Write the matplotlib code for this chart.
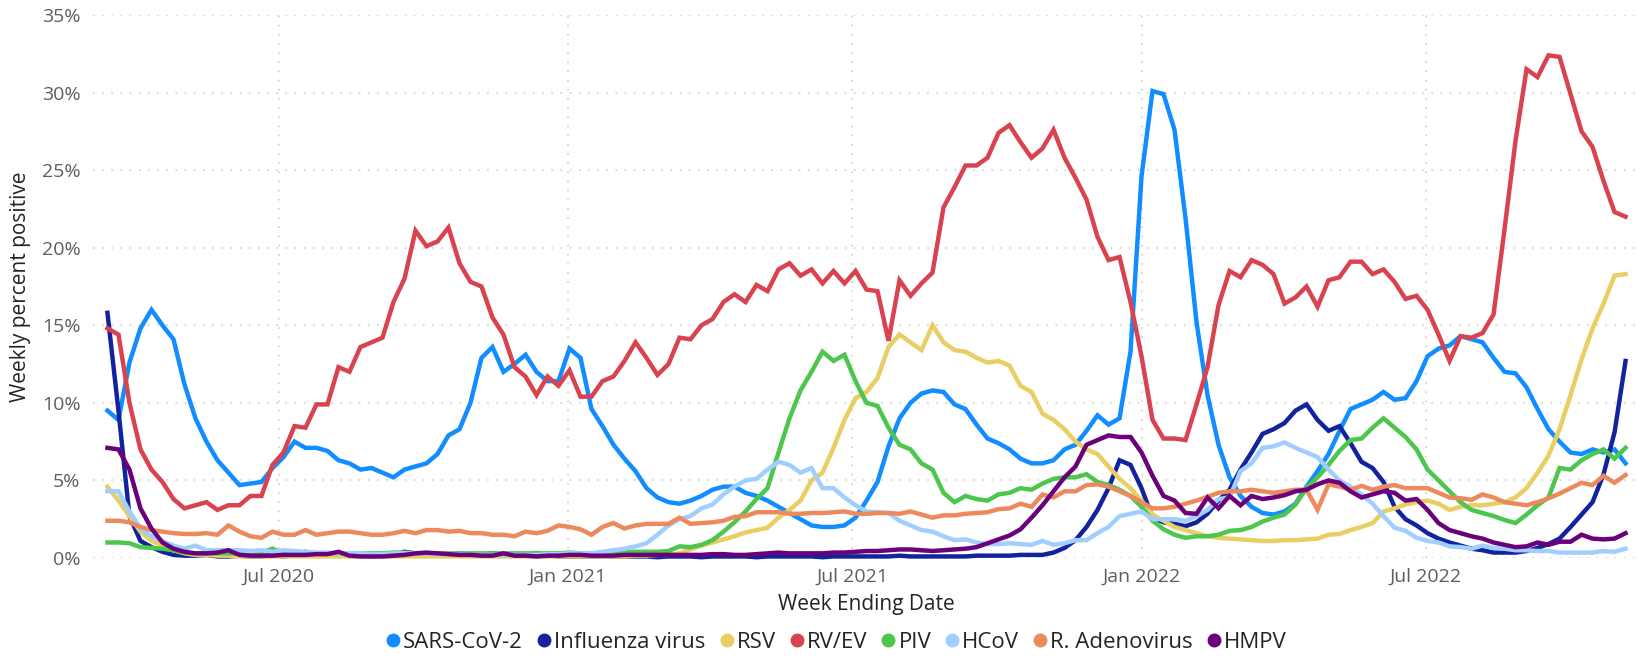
import pandas as pd
import numpy as np
from matplotlib import pyplot as plt
import matplotlib.ticker as ticker
from matplotlib.lines import Line2D

plt.rcParams['font.family'] = ['Open Sans', 'DejaVu Sans']

# weekly series, week ending Saturday, 2020-03-14 .. 2022-11-05 (139 weeks)
first_week = '2020-03-14'
n_weeks = 139

sars = [9.5, 8.9, 12.6, 14.8, 16.0, 15.0, 14.1, 11.2, 9.0, 7.5,
        6.3, 5.5, 4.7, 4.8, 4.9, 5.8, 6.5, 7.5, 7.1, 7.1,
        6.9, 6.3, 6.1, 5.7, 5.8, 5.5, 5.2, 5.7, 5.9, 6.1,
        6.7, 7.9, 8.3, 10.0, 12.9, 13.6, 12.0, 12.5, 13.1, 12.0,
        11.4, 11.4, 13.5, 12.9, 9.6, 8.5, 7.3, 6.4, 5.6, 4.5,
        3.9, 3.6, 3.5, 3.7, 4.0, 4.4, 4.6, 4.6, 4.2, 4.0,
        3.7, 3.3, 2.9, 2.5, 2.1, 2.0, 2.0, 2.1, 2.6, 3.7,
        4.9, 7.2, 9.0, 10.0, 10.6, 10.8, 10.7, 9.9, 9.6, 8.6,
        7.7, 7.4, 7.0, 6.4, 6.1, 6.1, 6.3, 7.0, 7.3, 8.2,
        9.2, 8.6, 9.0, 13.3, 24.6, 30.1, 29.9, 27.6, 21.9, 15.2,
        10.5, 7.3, 5.2, 4.0, 3.3, 2.9, 2.8, 3.0, 3.5, 4.6,
        5.6, 6.7, 8.2, 9.6, 9.9, 10.2, 10.7, 10.2, 10.3, 11.4,
        13.0, 13.5, 13.7, 14.3, 14.1, 13.9, 12.9, 12.0, 11.9, 11.0,
        9.6, 8.3, 7.5, 6.8, 6.7, 7.0, 6.8, 7.0, 6.1]

flu = [15.8, 9.5, 2.7, 1.1, 0.7, 0.4, 0.2, 0.15, 0.15, 0.2,
       0.1, 0.1, 0.15, 0.1, 0.1, 0.2, 0.1, 0.2, 0.4, 0.2,
       0.2, 0.3, 0.2, 0.2, 0.1, 0.2, 0.2, 0.4, 0.3, 0.3,
       0.2, 0.2, 0.3, 0.2, 0.2, 0.3, 0.2, 0.2, 0.2, 0.3,
       0.2, 0.1, 0.1, 0.1, 0.1, 0.1, 0.1, 0.1, 0.1, 0.1,
       0.05, 0.1, 0.1, 0.1, 0.05, 0.1, 0.1, 0.1, 0.1, 0.05,
       0.1, 0.1, 0.1, 0.1, 0.1, 0.05, 0.1, 0.1, 0.1, 0.1,
       0.1, 0.1, 0.15, 0.1, 0.1, 0.1, 0.1, 0.1, 0.1, 0.15,
       0.15, 0.15, 0.15, 0.2, 0.2, 0.2, 0.35, 0.65, 1.15, 2.0,
       3.1, 4.5, 6.3, 6.0, 4.5, 2.6, 2.3, 2.2, 2.05, 2.3,
       2.85, 3.7, 4.4, 5.7, 6.8, 8.0, 8.3, 8.7, 9.5, 9.9,
       8.9, 8.2, 8.5, 7.4, 6.2, 5.8, 4.9, 3.3, 2.5, 2.1,
       1.6, 1.25, 1.0, 0.8, 0.6, 0.5, 0.35, 0.35, 0.35, 0.45,
       0.65, 0.9, 1.25, 2.0, 2.8, 3.6, 5.4, 8.1, 12.7]

rsv = [4.6, 3.7, 2.7, 1.7, 1.1, 0.8, 0.5, 0.3, 0.2, 0.2,
       0.15, 0.15, 0.1, 0.1, 0.1, 0.1, 0.1, 0.1, 0.1, 0.1,
       0.1, 0.1, 0.1, 0.1, 0.1, 0.1, 0.1, 0.1, 0.1, 0.1,
       0.1, 0.1, 0.1, 0.1, 0.1, 0.1, 0.1, 0.1, 0.1, 0.1,
       0.1, 0.1, 0.1, 0.1, 0.1, 0.1, 0.1, 0.1, 0.15, 0.15,
       0.2, 0.2, 0.3, 0.55, 0.8, 1.0, 1.2, 1.4, 1.65, 1.8,
       1.95, 2.6, 3.1, 3.7, 5.0, 5.5, 7.1, 8.9, 10.3, 10.7,
       11.6, 13.6, 14.4, 13.9, 13.4, 15.0, 13.9, 13.4, 13.3, 12.9,
       12.6, 12.7, 12.4, 11.1, 10.7, 9.3, 8.9, 8.3, 7.5, 7.0,
       6.7, 5.9, 5.1, 4.5, 3.7, 2.8, 2.4, 2.0, 1.8, 1.6,
       1.4, 1.3, 1.25, 1.2, 1.15, 1.1, 1.1, 1.15, 1.15, 1.2,
       1.25, 1.5, 1.55, 1.8, 2.0, 2.25, 3.0, 3.2, 3.45, 3.6,
       3.7, 3.5, 3.1, 3.3, 3.4, 3.4, 3.5, 3.6, 3.9, 4.5,
       5.5, 6.6, 8.3, 10.5, 12.8, 14.8, 16.4, 18.2, 18.3]

rv_ev = [14.8, 14.4, 10.0, 7.0, 5.7, 4.9, 3.8, 3.2, 3.4, 3.6,
         3.1, 3.4, 3.4, 4.0, 4.0, 6.0, 6.8, 8.5, 8.4, 9.9,
         9.9, 12.3, 12.0, 13.6, 13.9, 14.2, 16.5, 18.0, 21.1, 20.1,
         20.4, 21.3, 19.0, 17.8, 17.5, 15.5, 14.4, 12.3, 11.7, 10.5,
         11.7, 11.1, 12.1, 10.4, 10.4, 11.4, 11.7, 12.7, 13.9, 12.9,
         11.8, 12.5, 14.2, 14.1, 15.0, 15.4, 16.5, 17.0, 16.5, 17.6,
         17.2, 18.6, 19.0, 18.2, 18.6, 17.7, 18.5, 17.7, 18.5, 17.3,
         17.2, 14.0, 17.9, 16.9, 17.7, 18.4, 22.6, 23.9, 25.3, 25.3,
         25.8, 27.4, 27.9, 26.8, 25.8, 26.4, 27.6, 25.8, 24.5, 23.1,
         20.7, 19.2, 19.4, 16.5, 13.0, 8.9, 7.7, 7.7, 7.6, 9.9,
         12.3, 16.3, 18.5, 18.1, 19.2, 18.9, 18.3, 16.4, 16.8, 17.5,
         16.2, 17.9, 18.1, 19.1, 19.1, 18.3, 18.6, 17.8, 16.7, 16.9,
         16.0, 14.4, 12.7, 14.3, 14.2, 14.5, 15.7, 21.2, 26.9, 31.5,
         31.0, 32.4, 32.3, 29.9, 27.5, 26.5, 24.3, 22.3, 22.0]

piv = [1.0, 1.0, 0.95, 0.7, 0.65, 0.6, 0.5, 0.35, 0.3, 0.3,
       0.3, 0.3, 0.3, 0.3, 0.35, 0.6, 0.3, 0.25, 0.25, 0.3,
       0.3, 0.3, 0.25, 0.3, 0.3, 0.3, 0.35, 0.35, 0.3, 0.3,
       0.3, 0.3, 0.3, 0.3, 0.3, 0.3, 0.3, 0.3, 0.3, 0.3,
       0.3, 0.3, 0.35, 0.3, 0.3, 0.35, 0.35, 0.4, 0.4, 0.4,
       0.4, 0.45, 0.75, 0.7, 0.85, 1.15, 1.7, 2.3, 3.0, 3.8,
       4.5, 6.8, 9.0, 10.8, 12.0, 13.3, 12.7, 13.1, 11.4, 10.0,
       9.8, 8.4, 7.3, 7.0, 6.1, 5.7, 4.2, 3.6, 4.0, 3.8,
       3.7, 4.1, 4.2, 4.5, 4.4, 4.8, 5.1, 5.2, 5.2, 5.4,
       4.9, 4.7, 4.4, 4.0, 3.3, 2.4, 1.85, 1.5, 1.3, 1.4,
       1.4, 1.5, 1.75, 1.8, 2.0, 2.35, 2.6, 2.8, 3.45, 4.5,
       5.2, 6.0, 6.9, 7.6, 7.7, 8.4, 9.0, 8.4, 7.8, 7.0,
       5.7, 5.0, 4.3, 3.6, 3.1, 2.9, 2.7, 2.45, 2.25, 2.8,
       3.4, 3.9, 5.8, 5.7, 6.3, 6.7, 7.0, 6.4, 7.1]

hcov = [4.3, 4.3, 3.0, 1.9, 1.4, 1.1, 0.8, 0.6, 0.8, 0.5,
        0.5, 0.5, 0.5, 0.45, 0.5, 0.4, 0.5, 0.45, 0.4, 0.35,
        0.35, 0.3, 0.3, 0.3, 0.25, 0.25, 0.3, 0.3, 0.3, 0.3,
        0.25, 0.25, 0.25, 0.2, 0.2, 0.2, 0.2, 0.2, 0.2, 0.2,
        0.25, 0.25, 0.3, 0.3, 0.3, 0.4, 0.5, 0.6, 0.75, 0.95,
        1.5, 2.1, 2.5, 2.7, 3.2, 3.45, 4.1, 4.6, 5.0, 5.1,
        5.7, 6.2, 6.0, 5.5, 5.8, 4.5, 4.5, 3.9, 3.4, 3.0,
        2.95, 2.9, 2.4, 2.1, 1.8, 1.7, 1.4, 1.15, 1.2, 1.0,
        0.9, 0.9, 0.95, 0.9, 0.85, 1.1, 0.85, 0.95, 1.15, 1.15,
        1.6, 2.0, 2.7, 2.85, 3.0, 2.5, 2.5, 2.5, 2.4, 2.7,
        3.1, 3.8, 3.9, 5.6, 6.1, 7.1, 7.2, 7.45, 7.1, 6.8,
        6.5, 5.7, 5.0, 4.6, 4.1, 3.5, 2.7, 1.95, 1.75, 1.3,
        1.1, 1.0, 0.75, 0.7, 0.6, 0.8, 0.65, 0.6, 0.5, 0.5,
        0.45, 0.45, 0.35, 0.35, 0.35, 0.35, 0.45, 0.4, 0.6]

adeno = [2.4, 2.4, 2.3, 2.0, 1.8, 1.7, 1.6, 1.55, 1.55, 1.6,
         1.5, 2.1, 1.7, 1.4, 1.3, 1.7, 1.5, 1.5, 1.8, 1.5,
         1.6, 1.7, 1.7, 1.6, 1.5, 1.5, 1.6, 1.75, 1.6, 1.8,
         1.8, 1.7, 1.75, 1.6, 1.6, 1.5, 1.5, 1.4, 1.7, 1.6,
         1.75, 2.1, 2.0, 1.85, 1.5, 2.0, 2.25, 1.9, 2.1, 2.2,
         2.2, 2.2, 2.6, 2.2, 2.25, 2.3, 2.4, 2.65, 2.7, 2.95,
         2.95, 2.95, 2.85, 2.85, 2.9, 2.9, 2.95, 3.0, 2.85, 2.85,
         2.9, 2.9, 2.85, 3.0, 2.8, 2.6, 2.75, 2.75, 2.85, 2.9,
         2.95, 3.15, 3.2, 3.5, 3.3, 4.1, 3.9, 4.3, 4.3, 4.7,
         4.75, 4.6, 4.3, 4.0, 3.6, 3.2, 3.2, 3.3, 3.5, 3.7,
         3.95, 4.2, 4.3, 4.3, 4.4, 4.3, 4.2, 4.3, 4.4, 4.4,
         3.1, 4.75, 4.6, 4.4, 4.65, 4.4, 4.6, 4.7, 4.5, 4.5,
         4.5, 4.2, 3.9, 3.85, 3.75, 4.1, 3.9, 3.6, 3.5, 3.4,
         3.6, 3.85, 4.15, 4.5, 4.85, 4.7, 5.3, 4.85, 5.35]

hmpv = [7.1, 7.0, 5.7, 3.2, 1.9, 1.0, 0.6, 0.4, 0.3, 0.3,
        0.35, 0.5, 0.2, 0.15, 0.15, 0.15, 0.2, 0.2, 0.2, 0.25,
        0.25, 0.4, 0.15, 0.1, 0.1, 0.1, 0.15, 0.2, 0.3, 0.35,
        0.3, 0.25, 0.2, 0.2, 0.15, 0.15, 0.3, 0.15, 0.15, 0.1,
        0.15, 0.15, 0.2, 0.2, 0.15, 0.15, 0.15, 0.2, 0.2, 0.2,
        0.2, 0.2, 0.2, 0.2, 0.2, 0.25, 0.25, 0.2, 0.2, 0.25,
        0.3, 0.35, 0.3, 0.3, 0.3, 0.3, 0.35, 0.35, 0.4, 0.45,
        0.45, 0.5, 0.55, 0.55, 0.5, 0.45, 0.5, 0.55, 0.6, 0.7,
        0.95, 1.2, 1.45, 1.85, 2.6, 3.4, 4.3, 5.2, 5.9, 7.3,
        7.6, 7.9, 7.8, 7.8, 6.8, 5.3, 4.0, 3.7, 2.9, 2.85,
        3.9, 3.2, 4.0, 3.4, 4.0, 3.8, 3.9, 4.05, 4.3, 4.4,
        4.75, 5.0, 4.85, 4.3, 3.9, 4.1, 4.3, 4.2, 3.7, 3.8,
        3.1, 2.25, 1.8, 1.6, 1.4, 1.25, 1.0, 0.85, 0.7, 0.75,
        1.0, 0.85, 1.05, 1.05, 1.5, 1.25, 1.2, 1.25, 1.6]

labels = ['SARS-CoV-2', 'Influenza virus', 'RSV', 'RV/EV', 'PIV', 'HCoV',
          'R. Adenovirus', 'HMPV']
colors = ['#118DFF', '#12239E', '#E8CE63', '#D9434F', '#4CC64C', '#A0CFFF',
          '#EC8A5E', '#6B007B']
tick_dates = ['2020-07-01', '2021-01-01', '2021-07-01', '2022-01-01', '2022-07-01']
tick_labels = ['Jul 2020', 'Jan 2021', 'Jul 2021', 'Jan 2022', 'Jul 2022']

weeks = pd.date_range(first_week, periods=n_weeks, freq='7D')
series = [sars, flu, rsv, rv_ev, piv, hcov, adeno, hmpv]

fig = plt.figure(figsize=(16.42, 6.58), dpi=100)
ax = fig.add_axes([93 / 1642, 100 / 658, 1547 / 1642, 543 / 658])

for vals, c in zip(series, colors):
    ax.plot(weeks, vals, color=c, lw=3.2, solid_joinstyle='miter', clip_on=False)

ax.set_xlim(weeks[0] - pd.Timedelta(days=9.2), weeks[-1] + pd.Timedelta(days=9.2))
ax.set_ylim(0, 35)
ax.set_yticks(np.arange(0, 36, 5))
ax.yaxis.set_major_formatter(ticker.FuncFormatter(lambda y, _: '{:g}%'.format(y)))
ax.set_xticks(pd.to_datetime(tick_dates))
ax.set_xticklabels(tick_labels)

for s in ax.spines.values():
    s.set_visible(False)
ax.tick_params(length=0, labelsize=14, colors='#605E5C')
ax.tick_params(axis='x', pad=7)
ax.tick_params(axis='y', pad=9)
ax.grid(True, color='#C8C6C4', lw=1.1, linestyle=(0, (1, 5)))
ax.set_axisbelow(True)

ax.set_xlabel('Week Ending Date', fontsize=15, color='#252423', labelpad=6)
ax.set_ylabel('Weekly percent positive', fontsize=15, color='#252423', labelpad=8)

handles = [Line2D([], [], marker='o', ls='', color=c, markersize=9) for c in colors]
fig.legend(handles, labels, loc='center', bbox_to_anchor=(835 / 1642, 1 - 642 / 658),
           ncol=8, frameon=False, fontsize=16, handletextpad=0.0,
           columnspacing=0.5, labelcolor='#252423', handlelength=0.9)

plt.savefig('out.png', dpi=100)
